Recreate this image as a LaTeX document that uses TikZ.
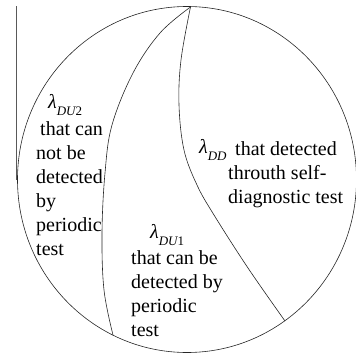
\documentclass[tikz,border=0pt]{standalone}
\usepackage{fontspec}
\setmainfont{Liberation Serif}
\newcommand{\lamsub}[1]{{\itshape λ}\raisebox{-7pt}{\fontsize{13}{13}\selectfont\itshape #1}}
\tikzset{
  txt/.style={anchor=base west, inner sep=0pt, font=\fontsize{20}{24}\selectfont},
  divider/.style={line width=0.6pt, black!85},
}
\begin{document}
\begin{tikzpicture}[x=1pt,y=-1pt]
\useasboundingbox (0,0) rectangle (356,359);
% outer circle
\draw[divider] (187,179.5) ellipse [x radius=169.5pt, y radius=173pt];
% vertical line at left
\draw[line width=1.2pt, black!65] (16.5,6) -- (16.5,180);
% dividers
\coordinate (top) at (190.5,7);
\coordinate (bl) at (113,335);
\coordinate (br) at (285,321);
\draw[divider] plot[smooth, tension=0.6] coordinates {(190.5,7) (160,33) (133,73) (112,125) (105,173) (102,233) (104,290) (113,335)};
\draw[divider] plot[smooth, tension=0.6] coordinates {(190.5,7) (181,60) (179,105) (184,150) (197,185) (214,215) (248,268) (285,321)};
% left region
\node[txt] (a0) at (48,108) {\lamsub{DU\upshape 2}};
\node[txt] (a1) at (40,135) {that can};
\node[txt] (a2) at (36,159) {not be};
\node[txt] (a3) at (36,183) {detected};
\node[txt] (a4) at (36,207) {by};
\node[txt] (a5) at (36,231) {periodic};
\node[txt] (a6) at (36,255) {test};
% middle region
\node[txt] (b0) at (150,238) {\lamsub{DU\upshape 1}};
\node[txt] (b1) at (131,264) {that can be};
\node[txt] (b2) at (131,288) {detected by};
\node[txt] (b3) at (131,312) {periodic};
\node[txt] (b4) at (131,336) {test};
% right region
\node[txt] (c0) at (199,153) {\lamsub{DD}};
\node[txt] (c1) at (235,155) {that detected};
\node[txt] (c2) at (228,179) {throuth self-};
\node[txt] (c3) at (228,203) {diagnostic test};
\end{tikzpicture}
\end{document}
